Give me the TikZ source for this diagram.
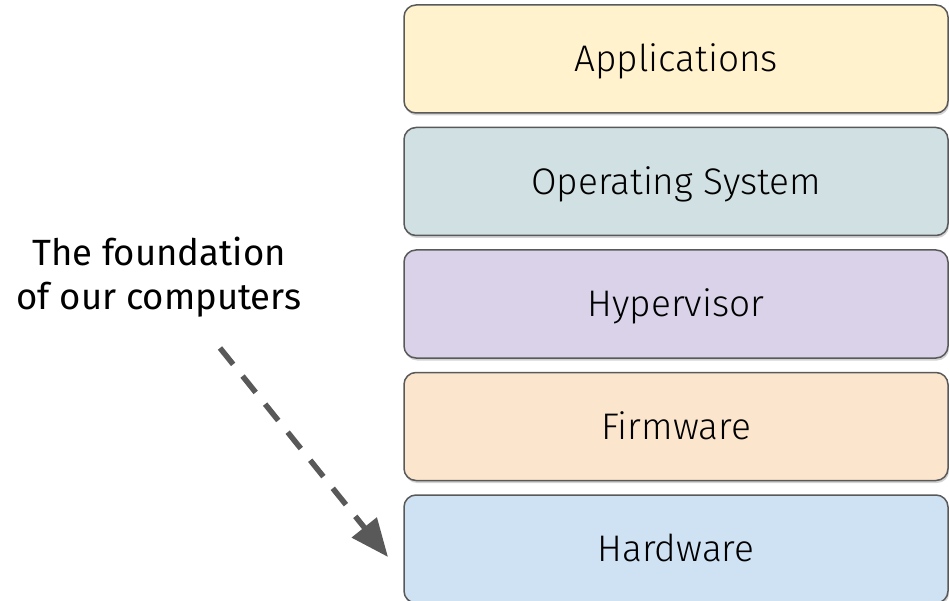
\documentclass[tikz,border=0pt]{standalone}
\usepackage{fontspec}
\setmainfont{Fira Sans}
\newfontfamily\lightfont{Fira Sans Light}
\usepackage{xcolor}
\usetikzlibrary{arrows.meta,positioning,shadows}
\definecolor{edge}{HTML}{595959}
\definecolor{appfill}{HTML}{FFF2CC}
\definecolor{osfill}{HTML}{D0E0E3}
\definecolor{hvfill}{HTML}{D9D2E9}
\definecolor{fwfill}{HTML}{FCE5CD}
\definecolor{hwfill}{HTML}{CFE2F3}
\begin{document}
\begin{tikzpicture}[x=1pt,y=-1pt,node distance=13pt,
  every node/.style={font=\fontsize{36.5}{44}\selectfont},
  layer/.style={draw=edge,line width=1.5pt,rounded corners=12pt,minimum width=544pt,
    minimum height=108pt,font=\lightfont\fontsize{37}{44}\selectfont,
    text height=25.5pt,text depth=0pt,
    drop shadow={shadow xshift=1pt,shadow yshift=-2.5pt,opacity=.35}},
  arr/.style={-{Triangle[length=38pt,width=31pt]},edge,line width=5.5pt,dash pattern=on 21pt off 15pt}]
\useasboundingbox (0,0) rectangle (949,601);
\node[layer,fill=appfill](app) at (676,59){Applications};
\node[layer,fill=osfill,below=of app](os){Operating System};
\node[layer,fill=hvfill,below=of os](hv){Hypervisor};
\node[layer,fill=fwfill,below=of hv](fw){Firmware};
\node[layer,fill=hwfill,below=of fw](hw){Hardware};
\node[align=center](found) at (159,277){The foundation\\of our computers};
\coordinate (from) at (220,348);
\coordinate (to) at (388,557);
\draw[arr](from)--(to);
\end{tikzpicture}
\end{document}
